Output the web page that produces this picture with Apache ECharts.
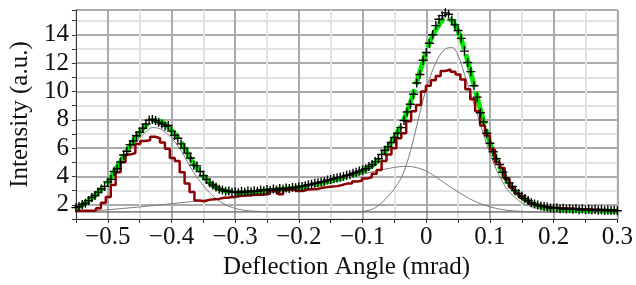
<!DOCTYPE html>
<html>
<head>
<meta charset="utf-8">
<script src="https://cdn.jsdelivr.net/npm/echarts@6/dist/echarts.min.js"></script>
<style>
html,body{margin:0;padding:0;background:#fff;}
#container{width:636px;height:285px;}
</style>
</head>
<body>
<div id="container"></div>
<script>
// measured points, step 0.005 mrad from -0.55
var dataStart = -0.55, dataStep = 0.005;
var dataY = [
	1.80, 1.88, 2.02, 2.12, 2.30, 2.52, 2.66, 2.90, 3.12, 3.30,
	3.62, 3.80, 4.35, 4.55, 5.02, 5.52, 5.78, 6.25, 6.50, 6.88,
	7.12, 7.40, 7.70, 7.98, 8.02, 7.95, 7.82, 7.70, 7.55, 7.60,
	7.20, 6.90, 6.70, 6.30, 6.00, 5.65, 5.30, 4.80, 4.75, 4.35,
	4.05, 3.80, 3.55, 3.40, 3.25, 3.10, 3.05, 2.95, 2.98, 2.88,
	2.92, 2.85, 2.95, 2.88, 2.98, 2.92, 3.00, 2.95, 3.05, 3.00,
	3.08, 3.02, 3.12, 3.05, 3.15, 3.10, 3.18, 3.15, 3.22, 3.20,
	3.28, 3.30, 3.35, 3.42, 3.45, 3.52, 3.55, 3.62, 3.65, 3.75,
	3.78, 3.85, 3.90, 3.95, 4.00, 4.08, 4.12, 4.22, 4.30, 4.38,
	4.45, 4.55, 4.70, 4.85, 5.05, 5.25, 5.55, 5.85, 6.10, 6.40,
	6.75, 7.05, 7.45, 7.95, 8.55, 9.10, 9.80, 10.60, 11.20, 12.20,
	12.75, 13.40, 14.00, 14.65, 15.10, 15.35, 15.55, 15.45, 15.05, 14.70,
	14.30, 13.75, 12.85, 12.05, 11.40, 10.40, 9.60, 8.50, 7.85, 7.05,
	6.35, 5.75, 5.25, 4.85, 4.30, 3.90, 3.55, 3.30, 3.00, 2.80,
	2.62, 2.45, 2.30, 2.15, 2.05, 1.98, 1.92, 1.88, 1.85, 1.78,
	1.76, 1.80, 1.72, 1.75, 1.70, 1.74, 1.68, 1.72, 1.66, 1.70,
	1.65, 1.68, 1.63, 1.67, 1.62, 1.66, 1.60, 1.64, 1.60, 1.62,
	1.58
];

// fit curves, step 0.01 mrad from -0.55
var curveStart = -0.55, curveStep = 0.01;
var fitY = [
	1.78, 2.00, 2.30, 2.68, 3.10, 3.55, 4.35, 5.05, 5.85, 6.50,
	7.10, 7.60, 7.95, 7.90, 7.70, 7.25, 6.75, 6.05, 5.25, 4.60,
	4.05, 3.55, 3.23, 3.03, 2.92, 2.86, 2.84, 2.86, 2.90, 2.95,
	3.00, 3.04, 3.08, 3.12, 3.17, 3.22, 3.30, 3.38, 3.47, 3.57,
	3.68, 3.80, 3.92, 4.05, 4.20, 4.38, 4.62, 4.95, 5.42, 6.05,
	6.75, 7.55, 8.60, 9.90, 11.40, 12.80, 13.95, 14.70, 15.15, 15.00,
	14.25, 12.95, 11.30, 9.60, 7.90, 6.35, 5.20, 4.25, 3.50, 2.95,
	2.55, 2.25, 2.03, 1.90, 1.80, 1.73, 1.68, 1.65, 1.62, 1.60,
	1.58, 1.57, 1.56, 1.56, 1.55, 1.55
];
var peakLeftY = [
	1.78, 1.95, 2.20, 2.55, 2.95, 3.45, 4.10, 4.80, 5.50, 6.15,
	6.70, 7.15, 7.45, 7.40, 7.12, 6.72, 6.15, 5.45, 4.65, 3.95,
	3.38, 2.85, 2.45, 2.12, 1.90, 1.75, 1.65, 1.58, 1.55, 1.53,
	1.52, 1.51, 1.50, 1.50, 1.50, 1.50, 1.50, 1.50, 1.50, 1.50,
	1.50, 1.50, 1.50, 1.50, 1.50, 1.50, 1.50, 1.50, 1.50, 1.50,
	1.50, 1.50, 1.50, 1.50, 1.50, 1.50, 1.50, 1.50, 1.50, 1.50,
	1.50, 1.50, 1.50, 1.50, 1.50, 1.50, 1.50, 1.50, 1.50, 1.50,
	1.50, 1.50, 1.50, 1.50, 1.50, 1.50, 1.50, 1.50, 1.50, 1.50,
	1.50, 1.50, 1.50, 1.50, 1.50, 1.50
];
var broadY = [
	1.52, 1.54, 1.57, 1.60, 1.62, 1.65, 1.69, 1.73, 1.77, 1.81,
	1.85, 1.90, 1.94, 1.99, 2.03, 2.08, 2.13, 2.17, 2.22, 2.27,
	2.32, 2.37, 2.41, 2.46, 2.50, 2.55, 2.61, 2.67, 2.73, 2.79,
	2.85, 2.92, 2.99, 3.06, 3.13, 3.20, 3.28, 3.36, 3.44, 3.52,
	3.60, 3.70, 3.82, 3.94, 4.05, 4.17, 4.27, 4.37, 4.47, 4.56,
	4.64, 4.70, 4.72, 4.67, 4.56, 4.38, 4.12, 3.82, 3.50, 3.20,
	2.92, 2.64, 2.38, 2.18, 2.00, 1.86, 1.75, 1.66, 1.60, 1.56,
	1.54, 1.52, 1.51, 1.50, 1.50, 1.50, 1.50, 1.50, 1.50, 1.50,
	1.50, 1.50, 1.50, 1.50, 1.50, 1.50
];
var peakRightY = [
	1.50, 1.50, 1.50, 1.50, 1.50, 1.50, 1.50, 1.50, 1.50, 1.50,
	1.50, 1.50, 1.50, 1.50, 1.50, 1.50, 1.50, 1.50, 1.50, 1.50,
	1.50, 1.50, 1.50, 1.50, 1.50, 1.50, 1.50, 1.50, 1.50, 1.50,
	1.50, 1.50, 1.50, 1.50, 1.50, 1.50, 1.50, 1.50, 1.50, 1.50,
	1.50, 1.50, 1.50, 1.50, 1.51, 1.54, 1.62, 1.80, 2.15, 2.60,
	3.15, 3.85, 5.00, 6.65, 8.50, 10.20, 11.50, 12.45, 13.00, 13.10,
	12.55, 11.20, 9.80, 8.40, 6.95, 5.65, 4.50, 3.60, 2.93, 2.50,
	2.15, 1.95, 1.81, 1.70, 1.63, 1.58, 1.55, 1.53, 1.52, 1.51,
	1.50, 1.50, 1.50, 1.50, 1.50, 1.50
];
var baseX = [-0.55, 0.3];
var baseY = [1.5, 1.5];

// histogram, bins of 0.00773 mrad
var histStart = -0.5494, histStep = 0.00773;
var histY = [
	1.58, 1.58, 1.58, 1.60, 1.75, 2.15, 2.55, 3.40, 4.30, 5.00,
	5.55, 5.65, 6.30, 6.50, 6.55, 6.80, 6.70, 6.40, 5.95, 5.30,
	5.10, 4.30, 3.50, 2.90, 2.30, 2.25, 2.35, 2.40, 2.42, 2.50,
	2.52, 2.55, 2.60, 2.65, 2.65, 2.70, 2.72, 2.72, 2.75, 2.95,
	2.98, 2.75, 3.05, 3.10, 2.98, 2.98, 3.08, 3.10, 3.12, 3.20,
	3.25, 3.30, 3.32, 3.40, 3.50, 3.50, 3.65, 3.70, 3.85, 3.95,
	4.20, 4.45, 5.10, 5.55, 6.00, 6.70, 7.05, 7.90, 8.60, 9.05,
	10.00, 10.40, 10.80, 11.10, 11.45, 11.55, 11.40, 11.20, 10.85, 10.15,
	9.45, 8.60, 7.60, 6.90, 5.90, 5.00, 4.60, 3.80, 3.20, 2.80,
	2.50, 2.28, 2.05, 1.95, 1.90, 1.83, 1.80, 1.77, 1.75, 1.73,
	1.72, 1.70, 1.68, 1.68, 1.66, 1.65, 1.64, 1.62, 1.60, 1.60
];

var xMin = -0.55, xMax = 0.3, xStep = 0.05;
var yMin = 1, yMax = 15.75, yStep = 1;
var xName = 'Deflection Angle (mrad)';
var yName = 'Intensity (a.u.)';

function pairs(start, step, ys){
	var out = [];
	for(var i=0;i<ys.length;i++){
		out.push([+(start+i*step).toFixed(5), ys[i]]);
	}
	return out;
}

var histData = pairs(histStart, histStep, histY);
histData.push([+(histStart+histY.length*histStep).toFixed(5), histY[histY.length-1]]);

var font = 'Liberation Serif, Times New Roman, serif';
var gridColors = ['#e2e2e2', '#ababab'];
var grayLine = {color:'#7a7a7a', width:1};

var myChart = echarts.init(document.getElementById('container'));
var option = {
	animation: false,
	backgroundColor: '#fff',
	grid: {
		left: 70.5, right: 15.3, top: 10, bottom: 63.5,
		show: true, borderColor: '#8a8a8a', borderWidth: 1
	},
	xAxis: {
		type: 'value',
		min: xMin, max: xMax, interval: xStep,
		name: xName, nameLocation: 'middle', nameGap: 36,
		nameTextStyle: {fontFamily: font, fontSize: 25, color: '#111'},
		axisLine: {show: true, onZero: false, lineStyle: {color: '#333', width: 1}},
		axisTick: {show: true, length: 4, lineStyle: {color: '#333'}},
		axisLabel: {
			fontFamily: font, fontSize: 25, color: '#111', margin: 6,
			showMinLabel: true, showMaxLabel: true,
			formatter: function(v){
				var t = Math.round(v*100);
				if(t % 10 !== 0) return '';
				if(t === 0) return '0';
				return (t/100).toFixed(1).replace('-', '\u2212');
			}
		},
		splitLine: {show: true, lineStyle: {color: gridColors, width: 2}}
	},
	yAxis: {
		type: 'value',
		min: yMin, max: yMax, interval: yStep,
		name: yName, nameLocation: 'middle', nameGap: 37,
		nameTextStyle: {fontFamily: font, fontSize: 25, color: '#111'},
		axisLine: {show: true, onZero: false, lineStyle: {color: '#333', width: 1}},
		axisTick: {show: true, length: 4, lineStyle: {color: '#333'}},
		axisLabel: {
			fontFamily: font, fontSize: 25, color: '#111', margin: 7,
			formatter: function(v){
				var r = Math.round(v);
				if(Math.abs(v-r) > 1e-6 || r % 2 !== 0) return '';
				return String(r);
			}
		},
		splitLine: {show: true, lineStyle: {color: gridColors, width: 2}}
	},
	series: [{
		name: 'background', type: 'line', showSymbol: false,
		lineStyle: {color: '#666', width: 1},
		data: [[baseX[0], baseY[0]], [baseX[1], baseY[1]]]
	},
	{
		name: 'left peak', type: 'line', showSymbol: false, smooth: 0.4,
		lineStyle: grayLine,
		data: pairs(curveStart, curveStep, peakLeftY)
	},
	{
		name: 'broad', type: 'line', showSymbol: false, smooth: 0.4,
		lineStyle: grayLine,
		data: pairs(curveStart, curveStep, broadY)
	},
	{
		name: 'right peak', type: 'line', showSymbol: false, smooth: 0.4,
		lineStyle: grayLine,
		data: pairs(curveStart, curveStep, peakRightY)
	},
	{
		name: 'fit', type: 'line', showSymbol: false, smooth: 0.4,
		lineStyle: {color: '#00e600', width: 5, type: [34, 5], cap: 'butt'},
		data: pairs(curveStart, curveStep, fitY)
	},
	{
		name: 'histogram', type: 'line', showSymbol: false, step: 'end',
		lineStyle: {color: '#8b0000', width: 2.5},
		data: histData
	},
	{
		name: 'data', type: 'scatter', z: 5,
		symbol: 'path://M0,3.8H9V5.2H0Z M3.8,0H5.2V9H3.8Z',
		symbolSize: 9,
		itemStyle: {color: '#000', opacity: 1},
		data: pairs(dataStart, dataStep, dataY)
	}]
};
myChart.setOption(option);
</script>
</body>
</html>
